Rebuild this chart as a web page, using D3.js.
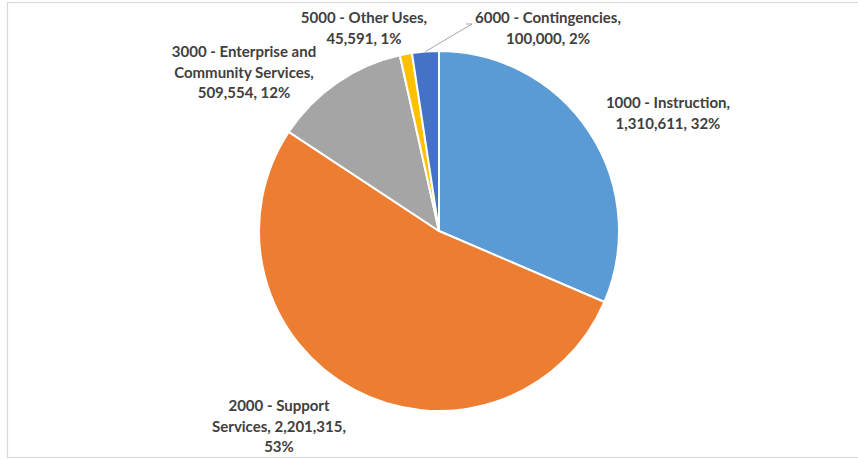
<!DOCTYPE html>
<html>
<head>
<meta charset="utf-8">
<script src="https://cdn.jsdelivr.net/npm/d3@7/dist/d3.min.js"></script>
<style>
  html, body { margin: 0; padding: 0; background: #fff; }
  svg { display: block; }
</style>
</head>
<body>
<script>
const categories = ["1000 - Instruction", "2000 - Support Services", "3000 - Enterprise and Community Services", "5000 - Other Uses", "6000 - Contingencies"];
const values = [1310611, 2201315, 509554, 45591, 100000];
const colors = ["#5B9BD5", "#ED7D31", "#A5A5A5", "#FFC000", "#4472C4"];

// label line breaks (text) and placement (layout), kept separate from data
const labelLines = [
  ["1000 - Instruction,", "1,310,611, 32%"],
  ["2000 - Support", "Services, 2,201,315,", "53%"],
  ["3000 - Enterprise and", "Community Services,", "509,554, 12%"],
  ["5000 - Other Uses,", "45,591, 1%"],
  ["6000 - Contingencies,", "100,000, 2%"]
];
const labelLayout = [
  {x: 668, y: 108},
  {x: 279, y: 411},
  {x: 244, y: 57},
  {x: 364, y: 23},
  {x: 548, y: 23}
];

const W = 858, H = 459;
const cx = 439, cy = 231, R = 180;

const svg = d3.select("body").append("svg").attr("width", W).attr("height", H);

// chart border
svg.append("rect")
  .attr("x", 7.5).attr("y", 2.5)
  .attr("width", W + 10).attr("height", 455)
  .attr("fill", "#fff").attr("stroke", "#d9d9d9").attr("stroke-width", 1.2);

const data = categories.map((c, i) => ({cat: c, value: values[i], color: colors[i], i}));

const pie = d3.pie().value(d => d.value).sort(null);
const arc = d3.arc().innerRadius(0).outerRadius(R);
const arcs = pie(data);

const g = svg.append("g").attr("transform", `translate(${cx},${cy})`);
g.selectAll("path").data(arcs).enter().append("path")
  .attr("d", arc)
  .attr("fill", d => d.data.color)
  .attr("stroke", "#fff")
  .attr("stroke-width", 2)
  .attr("stroke-linejoin", "round");

// leader line for the Contingencies label
const a6 = arcs[4];
const mid6 = (a6.startAngle + a6.endAngle) / 2;
const px = cx + Math.sin(mid6) * R, py = cy - Math.cos(mid6) * R;
svg.append("polyline")
  .attr("points", `${px},${py} ${labelLayout[4].x - 76},${labelLayout[4].y + 1} ${labelLayout[4].x - 82},${labelLayout[4].y + 1}`)
  .attr("fill", "none").attr("stroke", "#a6a6a6").attr("stroke-width", 1);

// labels
const lineH = 20.5;
labelLines.forEach((lines, i) => {
  const t = svg.append("text")
    .attr("x", labelLayout[i].x).attr("y", labelLayout[i].y)
    .attr("text-anchor", "middle")
    .attr("font-family", "Lato, 'Open Sans', sans-serif")
    .attr("font-weight", "bold")
    .attr("font-size", "15px")
    .attr("fill", "#404040");
  lines.forEach((ln, j) => {
    t.append("tspan").attr("x", labelLayout[i].x).attr("y", labelLayout[i].y + j * lineH).text(ln);
  });
});
</script>
</body>
</html>
